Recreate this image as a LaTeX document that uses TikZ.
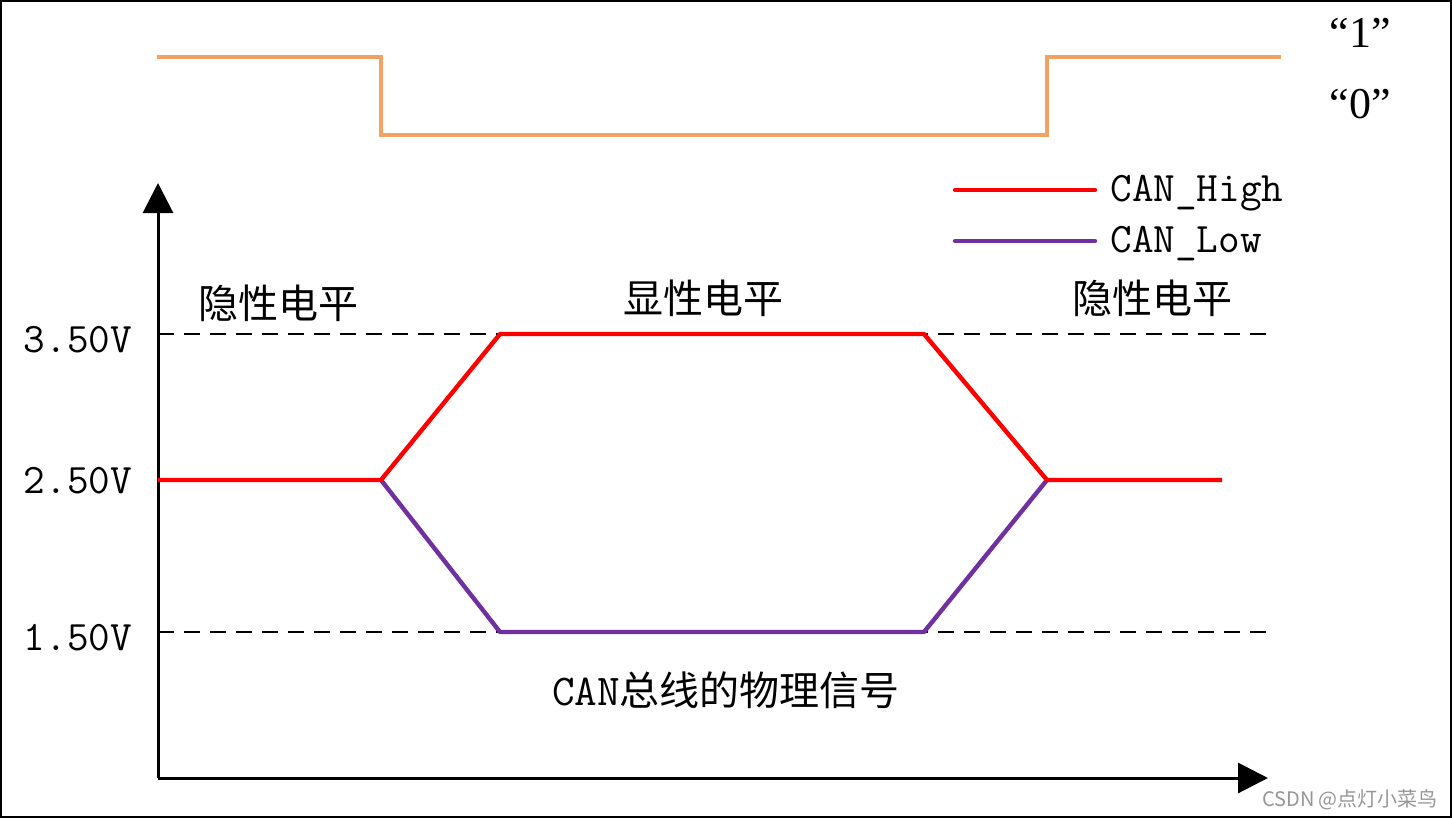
\documentclass[tikz,border=0pt]{standalone}
\usepackage{fontspec}
\setmainfont{Liberation Serif}
\newfontfamily\cjk{Noto Sans CJK SC}
\setmonofont{Latin Modern Mono}
\usetikzlibrary{arrows.meta}
\definecolor{sigorange}{RGB}{244,162,97}
\definecolor{canred}{RGB}{255,0,0}
\definecolor{canpurple}{RGB}{112,48,160}
\definecolor{wmgray}{RGB}{150,150,150}
\begin{document}
\begin{tikzpicture}[x=0.5pt,y=-0.5pt,
  sig/.style={line width=2.2pt},
  axisline/.style={line width=1.5pt,-{Triangle[length=15pt,width=15pt]}},
  dashline/.style={line width=1pt,dash pattern=on 8pt off 5pt},
  voltlbl/.style={font=\ttfamily\fontsize{21}{21}\selectfont,inner sep=0pt},
  cnlbl/.style={font=\cjk\fontsize{20}{20}\selectfont,inner sep=0pt},
  bitlbl/.style={font=\fontsize{22}{22}\selectfont,inner sep=0pt},
  leglbl/.style={font=\ttfamily\fontsize{21}{21}\selectfont,inner sep=0pt,anchor=west}]
\useasboundingbox (0,0) rectangle (1452,819);
\draw[line width=1pt] (1,1) rectangle (1451,817);
% digital signal
\coordinate (s0) at (157,57);
\coordinate (s1) at (381,57);
\coordinate (s2) at (381,135);
\coordinate (s3) at (1047,135);
\coordinate (s4) at (1047,57);
\coordinate (s5) at (1281,57);
\draw[sig,sigorange] (s0) -- (s1) -- (s2) -- (s3) -- (s4) -- (s5);
\node[bitlbl] (b1) at (1360,33) {“1”};
\node[bitlbl] (b0) at (1360,104) {“0”};
% axes
\coordinate (o) at (158,778);
\coordinate (ytip) at (158,183);
\coordinate (xtip) at (1268,778);
\draw[axisline] (o) -- (ytip);
\draw[axisline] (o) -- (xtip);
% dashed levels
\coordinate (d35a) at (158,334);
\coordinate (d35b) at (1275,334);
\coordinate (d15a) at (158,632);
\coordinate (d15b) at (1275,632);
\draw[dashline] (d35a) -- (d35b);
\draw[dashline] (d15a) -- (d15b);
% CAN lines
\coordinate (h0) at (158,480);
\coordinate (h1) at (381,480);
\coordinate (h2) at (500,334);
\coordinate (h3) at (924,334);
\coordinate (h4) at (1047,480);
\coordinate (h5) at (1222,480);
\coordinate (l2) at (500,632);
\coordinate (l3) at (924,632);
\draw[sig,canpurple,line join=round] (h1) -- (l2) -- (l3) -- (h4);
\draw[sig,canred,line join=round] (h0) -- (h1) -- (h2) -- (h3) -- (h4) -- (h5);
% voltage labels
\node[voltlbl] (v35) at (78,340) {3.50V};
\node[voltlbl] (v25) at (78,481) {2.50V};
\node[voltlbl] (v15) at (78,638) {1.50V};
% region labels
\node[cnlbl] (r1) at (278,303) {隐性电平};
\node[cnlbl] (r2) at (703,298) {显性电平};
\node[cnlbl] (r3) at (1152,298) {隐性电平};
\node[font=\cjk\fontsize{20}{20}\selectfont,inner sep=0pt] (title) at (726,690) {{\ttfamily\fontsize{22}{22}\selectfont CAN}总线的物理信号};
% legend
\coordinate (lh0) at (955,190);
\coordinate (lh1) at (1095,190);
\coordinate (ll0) at (955,241);
\coordinate (ll1) at (1095,241);
\draw[sig,canred,line cap=round] (lh0) -- (lh1);
\draw[sig,canpurple,line cap=round] (ll0) -- (ll1);
\node[leglbl] (lgh) at (1110,193) {CAN\_High};
\node[leglbl] (lgl) at (1110,244) {CAN\_Low};
% watermark
\node[font=\cjk\fontsize{10}{10}\selectfont,text=wmgray,inner sep=0pt] (wm) at (1350,800) {CSDN @点灯小菜鸟};
\end{tikzpicture}
\end{document}
